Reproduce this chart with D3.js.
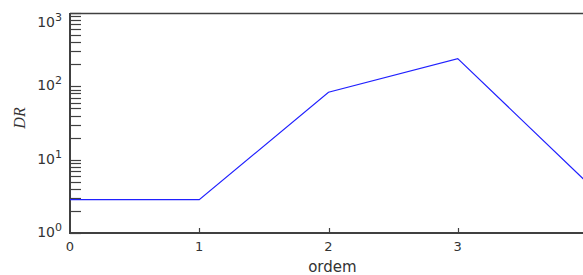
<!DOCTYPE html>
<html>
<head>
  <script src="https://d3js.org/d3.v7.min.js"></script>
  <style>
    body { margin: 0; background: #fff; }
    svg { display: block; }
  </style>
</head>
<body>
  <svg width="583" height="275"></svg>
  <script>
    var ordem = [0, 1, 2, 3, 4];
    var dr = [2.85, 2.85, 83, 239, 4.9];
    var xTicks = [0, 1, 2, 3];
    var yDecades = [0, 1, 2, 3];

    var svg = d3.select("svg"),
        margin = {top: 13, right: -4, bottom: 42, left: 70},
        width = +svg.attr("width") - margin.left - margin.right,
        height = +svg.attr("height") - margin.top - margin.bottom;

    var x = d3.scaleLinear().domain([0, 4]).range([0, width]),
        y = d3.scaleLog().domain([1, 1000]).range([height, 0]);

    var g = svg.append("g")
        .attr("transform", "translate(" + margin.left + "," + margin.top + ")");

    var axisColor = "#404040";

    // minor ticks on log axis, pointing into the plot
    var minor = [];
    yDecades.slice(0, 3).forEach(function(e) {
      for (var k = 2; k <= 9; k++) minor.push(k * Math.pow(10, e));
    });
    g.selectAll(".minor").data(minor).enter().append("line")
      .attr("x1", 0).attr("x2", 11)
      .attr("y1", function(d) { return Math.round(y(d)) + 0.5; })
      .attr("y2", function(d) { return Math.round(y(d)) + 0.5; })
      .attr("stroke", axisColor).attr("stroke-width", 1.2);
    g.selectAll(".major").data(yDecades).enter().append("line")
      .attr("x1", 0).attr("x2", 11)
      .attr("y1", function(d) { return Math.round(y(Math.pow(10, d))) + 0.5; })
      .attr("y2", function(d) { return Math.round(y(Math.pow(10, d))) + 0.5; })
      .attr("stroke", axisColor).attr("stroke-width", 1.2);

    // y tick labels 10^n
    var yl = g.selectAll(".ylab").data(yDecades).enter().append("text")
      .attr("x", -8)
      .attr("y", function(d) { return y(Math.pow(10, d)) + (d === 3 ? 14 : 4); })
      .attr("text-anchor", "end")
      .attr("font-family", "DejaVu Sans, sans-serif")
      .attr("font-size", 14)
      .attr("fill", "#333");
    yl.append("tspan").text("10");
    yl.append("tspan").attr("dy", -6).attr("font-size", 11)
      .text(function(d) { return d; });

    // x ticks
    g.selectAll(".xt").data(xTicks.slice(1)).enter().append("line")
      .attr("x1", function(d) { return Math.round(x(d)) + 0.5; })
      .attr("x2", function(d) { return Math.round(x(d)) + 0.5; })
      .attr("y1", height).attr("y2", height - 5)
      .attr("stroke", axisColor).attr("stroke-width", 1.2);
    g.selectAll(".xlab").data(xTicks).enter().append("text")
      .attr("x", function(d) { return x(d); })
      .attr("y", height + 18)
      .attr("text-anchor", "middle")
      .attr("font-family", "DejaVu Sans, sans-serif")
      .attr("font-size", 13)
      .attr("fill", "#333")
      .text(function(d) { return d; });

    // frame
    g.append("line").attr("x1", 0).attr("x2", width).attr("y1", 0.5).attr("y2", 0.5)
      .attr("stroke", axisColor).attr("stroke-width", 1.5);
    g.append("line").attr("x1", 0).attr("x2", width).attr("y1", height).attr("y2", height)
      .attr("stroke", axisColor).attr("stroke-width", 2);
    g.append("line").attr("x1", 0).attr("x2", 0).attr("y1", 0).attr("y2", height + 1)
      .attr("stroke", axisColor).attr("stroke-width", 2);

    // data line
    var line = d3.line()
      .x(function(d, i) { return x(ordem[i]); })
      .y(function(d) { return y(d); });
    g.append("path").datum(dr)
      .attr("d", line)
      .attr("fill", "none")
      .attr("stroke", "#2020ff")
      .attr("stroke-width", 1.2);

    // axis titles
    svg.append("text")
      .attr("x", margin.left + x(2.03))
      .attr("y", 272)
      .attr("text-anchor", "middle")
      .attr("font-family", "DejaVu Sans, sans-serif")
      .attr("font-size", 15)
      .attr("fill", "#333")
      .text("ordem");
    svg.append("text")
      .attr("transform", "translate(25,118) rotate(-90)")
      .attr("text-anchor", "middle")
      .attr("font-family", "Liberation Serif, serif")
      .attr("font-style", "italic")
      .attr("font-size", 16)
      .attr("fill", "#333")
      .text("DR");
  </script>
</body>
</html>
